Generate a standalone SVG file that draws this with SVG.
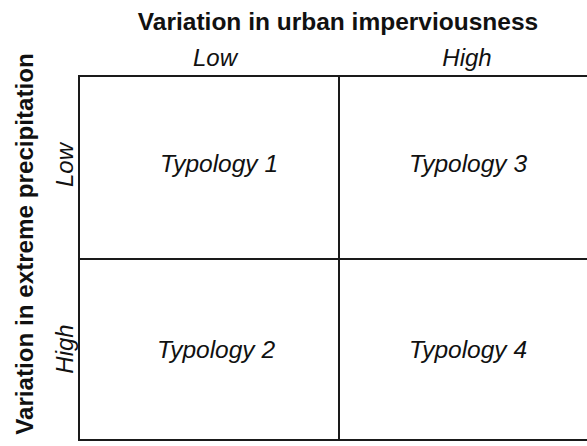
<svg xmlns="http://www.w3.org/2000/svg" width="587" height="446" viewBox="0 0 587 446">
<style>
.cell{fill:#fff;stroke:#1a1a1a;stroke-width:2}
.lab{font-family:"Liberation Sans",Arial,sans-serif;font-style:italic;font-size:24px;fill:#111;text-anchor:middle}
.typ{font-size:24.5px}
.ttl{font-family:"Liberation Sans",Arial,sans-serif;font-weight:bold;font-size:24.5px;fill:#111;text-anchor:middle}
</style>
<rect width="587" height="446" fill="#fff"/>
<g id="axis-x">
<text class="ttl" x="338" y="30">Variation in urban imperviousness</text>
<text class="lab" x="215" y="66">Low</text>
<text class="lab" x="467" y="66">High</text>
</g>
<g id="axis-y">
<text class="ttl" style="font-size:24.2px" transform="translate(33,244) rotate(-90)">Variation in extreme precipitation</text>
<text class="lab" transform="translate(73,165) rotate(-90)">Low</text>
<text class="lab" transform="translate(73,349) rotate(-90)">High</text>
</g>
<g id="typology1">
<rect class="cell" x="79" y="76" width="260" height="183"/>
<text class="lab typ" x="219" y="172">Typology 1</text>
</g>
<g id="typology3">
<rect class="cell" x="339" y="76" width="260" height="183"/>
<text class="lab typ" x="468" y="172">Typology 3</text>
</g>
<g id="typology2">
<rect class="cell" x="79" y="259" width="260" height="181"/>
<text class="lab typ" x="216" y="358">Typology 2</text>
</g>
<g id="typology4">
<rect class="cell" x="339" y="259" width="260" height="181"/>
<text class="lab typ" x="468" y="358">Typology 4</text>
</g>
<g id="connectors"/>
</svg>
